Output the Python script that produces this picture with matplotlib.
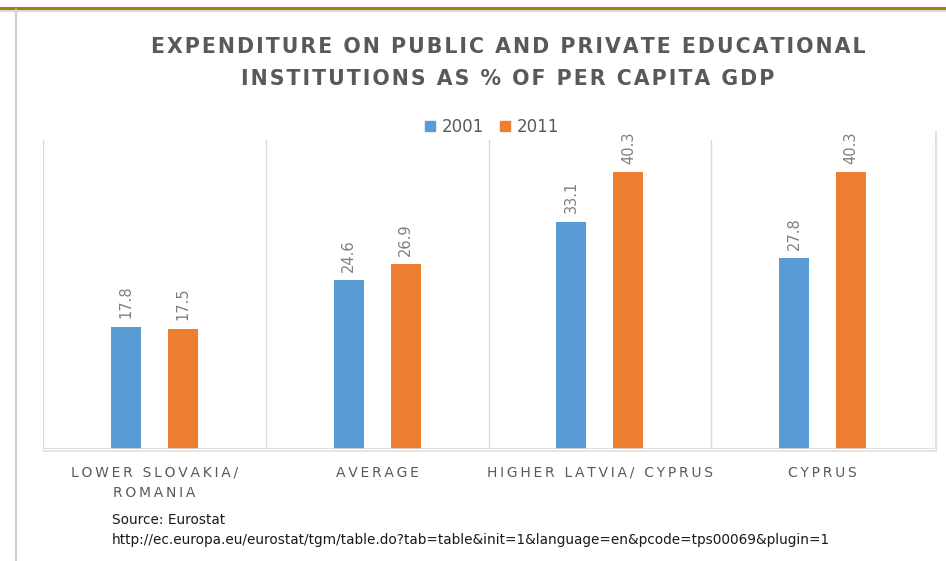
import matplotlib
matplotlib.use("Agg")
import matplotlib.pyplot as plt
from matplotlib.patches import Patch
from matplotlib.lines import Line2D

# Du lieu
categories = ["LOWER SLOVAKIA/\nROMANIA", "AVERAGE", "HIGHER LATVIA/ CYPRUS", "CYPRUS"]
years = ["2001", "2011"]
values_2001 = [17.8, 24.6, 33.1, 27.8]
values_2011 = [17.5, 26.9, 40.3, 40.3]

blue = "#5B9BD5"
orange = "#ED7D31"
grid_col = "#D9D9D9"
text_gray = "#595959"


def spaced(s, sep="\u200a"):
    # gian chu giong ban goc
    return "\n".join(sep.join(line) for line in s.split("\n"))


W, H = 946, 561
fig = plt.figure(figsize=(W / 100, H / 100), dpi=100)
fig.patch.set_facecolor("white")

# khung trang chieu
fig.add_artist(Line2D([0, 1], [1 - 8 / H, 1 - 8 / H], color="#A57F12", lw=2.2, transform=fig.transFigure))
fig.add_artist(Line2D([0, 1], [1 - 10.5 / H, 1 - 10.5 / H], color="#D5D5D5", lw=1.2, transform=fig.transFigure))
fig.add_artist(Line2D([15.5 / W, 15.5 / W], [0, 1 - 10 / H], color="#D0D0D0", lw=1.6, transform=fig.transFigure))

ax = fig.add_axes([43 / W, (H - 449) / H, (934 - 43) / W, (449 - 140) / H])
x = list(range(len(categories)))
bw = 0.135
off = 0.128
b1 = ax.bar([i - off for i in x], values_2001, width=bw, color=blue, zorder=3)
b2 = ax.bar([i + off for i in x], values_2011, width=bw, color=orange, zorder=3)

for bars, vals in [(b1, values_2001), (b2, values_2011)]:
    for r, v in zip(bars, vals):
        ax.annotate(f"{v:.1f}", (r.get_x() + r.get_width() / 2, v), xytext=(0, 6),
                    textcoords="offset points", ha="center", va="bottom",
                    rotation=90, fontsize=10.5, color="#7F7F7F")

ax.set_xlim(-0.5, len(categories) - 0.5)
ax.set_ylim(0, 45)
for b in [i - 0.5 for i in range(len(categories) + 1)]:
    ax.axvline(b, color=grid_col, lw=1, zorder=1)
for s in ax.spines.values():
    s.set_visible(False)
ax.axhline(0, color=grid_col, lw=1.2, zorder=4)
ax.set_yticks([])
ax.set_xticks(x)
ax.set_xticklabels([spaced(c, "\u2009") for c in categories], fontsize=10, color=text_gray, linespacing=1.6)
ax.tick_params(axis="x", length=0, pad=12)

# bong khung bieu do
fig.add_artist(Line2D([935.5 / W, 935.5 / W], [(H - 450) / H, (H - 132) / H], color="#E0E0E0", lw=1.5, transform=fig.transFigure))
fig.add_artist(Line2D([43 / W, 936 / W], [(H - 450.5) / H, (H - 450.5) / H], color="#E0E0E0", lw=1.2, transform=fig.transFigure))

fig.text(508 / W, 1 - 47 / H, spaced("EXPENDITURE ON PUBLIC AND PRIVATE EDUCATIONAL"),
         ha="center", va="center", fontsize=14.8, fontweight="bold", color=text_gray)
fig.text(508 / W, 1 - 79 / H, spaced("INSTITUTIONS AS % OF PER CAPITA GDP"),
         ha="center", va="center", fontsize=14.8, fontweight="bold", color=text_gray)

handles = [Patch(color=blue), Patch(color=orange)]
fig.legend(handles, years, loc="center", bbox_to_anchor=(492 / W, 1 - 127 / H), ncol=2,
           frameon=False, fontsize=12, handlelength=0.6, handleheight=0.6,
           handletextpad=0.4, columnspacing=1.0, labelcolor=text_gray)

fig.text(112 / W, 1 - 520 / H, "Source: Eurostat", ha="left", va="center", fontsize=9.8, color="#1A1A1A")
fig.text(112 / W, 1 - 540 / H,
         "http://ec.europa.eu/eurostat/tgm/table.do?tab=table&init=1&language=en&pcode=tps00069&plugin=1",
         ha="left", va="center", fontsize=9.8, color="#1A1A1A")

fig.savefig("out.png", dpi=100)
